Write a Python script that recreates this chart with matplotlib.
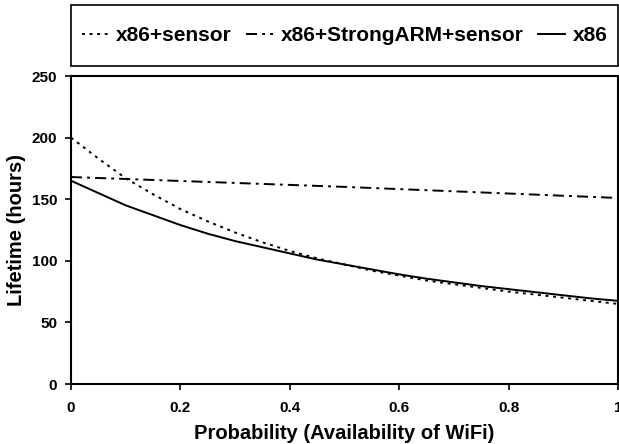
import matplotlib
matplotlib.use('Agg')
import matplotlib.pyplot as plt
from matplotlib.patches import Rectangle

plt.rcParams['font.family'] = ['Liberation Sans', 'DejaVu Sans']
plt.rcParams['font.weight'] = 'bold'

# probability of wifi availability
prob = [0.0, 0.05, 0.1, 0.15, 0.2, 0.25, 0.3, 0.35, 0.4, 0.45, 0.5,
        0.55, 0.6, 0.65, 0.7, 0.75, 0.8, 0.85, 0.9, 0.95, 1.0]

# lifetime in hours
x86_sensor = [200, 183, 167, 154, 142, 132, 123, 115, 108, 102, 97,
              92, 88, 84, 81, 78, 75, 72.5, 70, 67.5, 65]
x86_arm_sensor = [168, 167.2, 166.4, 165.6, 164.8, 164, 163.2, 162.4, 161.6, 160.8, 160,
                  159.1, 158.2, 157.3, 156.4, 155.5, 154.6, 153.7, 152.8, 151.9, 151]
x86_only = [165, 155, 145, 137, 129, 122, 116, 111, 106, 101, 97,
            93, 89, 85.5, 82.5, 79.5, 77, 74.5, 72, 69.5, 67.5]

yticks = [0, 50, 100, 150, 200, 250]
xticks = [0, 0.2, 0.4, 0.6, 0.8, 1.0]
xticklabels = ['0', '0.2', '0.4', '0.6', '0.8', '1']

fig = plt.figure(figsize=(6.19, 4.44), dpi=100)
ax = fig.add_axes([71 / 619, 60 / 444, 547 / 619, 308 / 444])

ax.plot(prob, x86_sensor, color='black', lw=1.4, linestyle=(0, (1.5, 2.4)),
        label='x86+sensor')
ax.plot(prob, x86_arm_sensor, color='black', lw=1.4, linestyle=(0, (5.7, 2.6, 1.5, 2.6)),
        label='x86+StrongARM+sensor')
ax.plot(prob, x86_only, color='black', lw=1.4, linestyle='-', label='x86')

ax.set_xlim(0, 1)
ax.set_ylim(0, 250)
ax.set_xticks(xticks)
ax.set_xticklabels(xticklabels)
ax.set_yticks(yticks)
ax.tick_params(direction='out', length=4, width=1.2, labelsize=11, pad=6,
               top=False, right=False)
ax.tick_params(axis='x', pad=8)
for s in ax.spines.values():
    s.set_linewidth(1.5)

ax.set_xlabel('Probability (Availability of WiFi)', fontsize=14.5, fontweight='bold', labelpad=7)
ax.set_ylabel('Lifetime (hours)', fontsize=14.5, fontweight='bold', labelpad=4)

# legend box spans the width of the axes
fig.add_artist(Rectangle((71 / 619, 1 - 66 / 444), 547 / 619, 61 / 444,
                         transform=fig.transFigure, fill=False,
                         edgecolor='black', linewidth=1.2))
leg = fig.legend(loc='center', bbox_to_anchor=(344.5 / 619, 1 - 35.5 / 444),
                 ncol=3, fontsize=15, frameon=False, handlelength=1.3,
                 handletextpad=0.35, columnspacing=0.7, borderpad=0.3)

fig.savefig('out.png', dpi=100)
